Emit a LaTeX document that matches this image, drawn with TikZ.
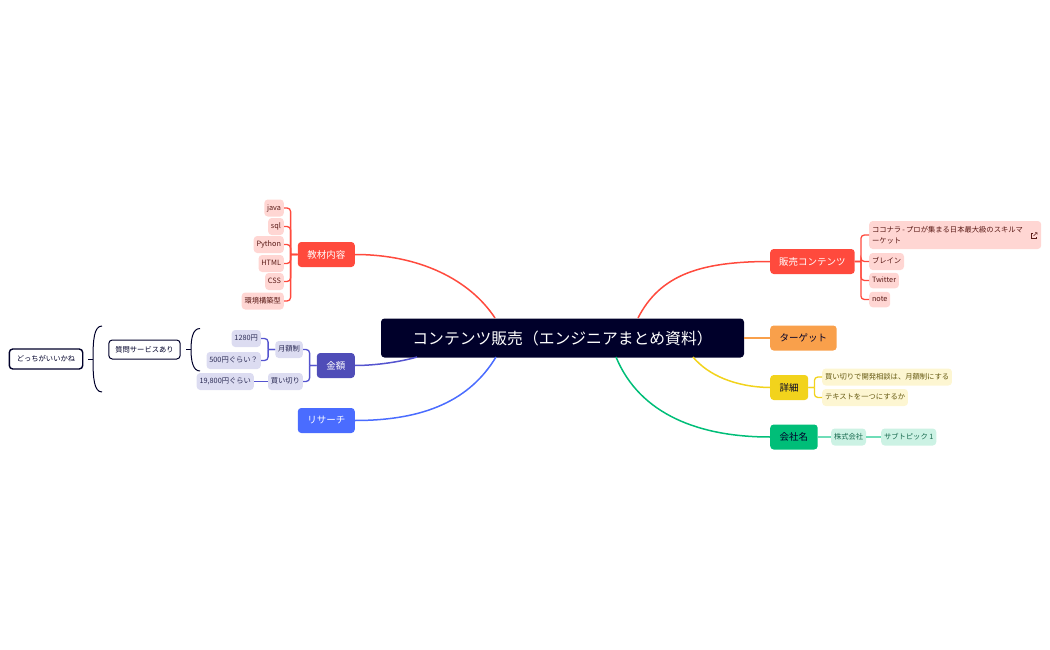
\documentclass[tikz,border=0pt]{standalone}
\usepackage{fontspec}
\setmainfont{Noto Sans CJK JP}
\usetikzlibrary{calc}
\definecolor{navy}{HTML}{00002A}
\definecolor{redline}{HTML}{FF4A3D}
\definecolor{redleaf}{HTML}{FFD6D3}
\definecolor{redtext}{HTML}{5A1A16}
\definecolor{indigo}{HTML}{4F4DB8}
\definecolor{indigoline}{HTML}{5554CF}
\definecolor{indigoleaf}{HTML}{DCDCF1}
\definecolor{indigotext}{HTML}{2C2C55}
\definecolor{bluebox}{HTML}{4A6CFF}
\definecolor{orangebox}{HTML}{F9A04B}
\definecolor{yellowbox}{HTML}{F2D31C}
\definecolor{yellowleaf}{HTML}{FDF6D2}
\definecolor{yellowtext}{HTML}{665A12}
\definecolor{greenbox}{HTML}{00BE78}
\definecolor{greenleaf}{HTML}{CCF2E4}
\definecolor{greenline}{HTML}{6FDDB8}
\definecolor{greentext}{HTML}{1A6B50}
\tikzset{
    branch/.style={rounded corners=3.5pt, minimum height=25pt, inner xsep=9.5pt, inner ysep=0pt, font=\fontsize{9.5}{11}\selectfont},
    leaf/.style={rounded corners=3.5pt, minimum height=17pt, inner xsep=2.8pt, inner ysep=0pt, text height=5.9pt, text depth=1.3pt, font=\fontsize{7.3}{11}\selectfont},
    note/.style={rounded corners=3.5pt, draw=navy, fill=white, text=navy, inner ysep=0pt, font=\fontsize{7.3}{11}\selectfont},
    main/.style={line width=1.5pt},
    wire/.style={line width=1.3pt, rounded corners=3.5pt},
    leftkids/.style={to path={-- ++(-7,0) ++(0,0) |- (\tikztotarget)}},
    rightkids/.style={to path={-- ++(6,0) ++(0,0) |- (\tikztotarget)}}
}
\begin{document}
\begin{tikzpicture}[x=1pt, y=-1pt]
    \useasboundingbox (0,0) rectangle (1050,650);

    % centre
    \node[rounded corners=3.5pt, fill=navy, text=white, minimum width=363pt, minimum height=39pt, font=\fontsize{15.8}{18}\selectfont] (hub) at (562.5,338) {コンテンツ販売（エンジニアまとめ資料）};
    \coordinate (hubkyozai) at (495,318);
    \coordinate (hubhanbai) at (638,318);
    \coordinate (hubkingaku) at (417,357);
    \coordinate (hubresearch) at (496,357);
    \coordinate (hubdetail) at (693,357);
    \coordinate (hubcompany) at (616,357);

    % left side
    \node[branch, fill=redline, text=white, anchor=east] (kyozai) at (355,254.5) {教材内容};
    \node[branch, fill=indigo, text=white, anchor=east] (kingaku) at (355,365.5) {金額};
    \node[branch, fill=bluebox, text=white, anchor=east] (research) at (355,420.5) {リサーチ};

    \foreach \name/\txt/\ypos in {java/java/208, sql/sql/226.5, python/Python/244.5, html/HTML/263.5, css/CSS/281.5, kankyo/環境構築型/301}
        \node[leaf, fill=redleaf, text=redtext, anchor=east] (\name) at (284,\ypos) {\txt};

    \node[leaf, fill=indigoleaf, text=indigotext, anchor=east] (monthly) at (303,349.5) {月額制};
    \node[leaf, fill=indigoleaf, text=indigotext, anchor=east] (buyout) at (303,381.5) {買い切り};
    \node[leaf, fill=indigoleaf, text=indigotext, anchor=east] (yen1280) at (261,338.5) {1280円};
    \node[leaf, fill=indigoleaf, text=indigotext, anchor=east] (yen500) at (261,360.5) {500円ぐらい？};
    \node[leaf, fill=indigoleaf, text=indigotext, anchor=east] (yen19800) at (254,381.5) {19,800円ぐらい};

    \node[note, line width=1pt, minimum height=19pt, inner xsep=6.5pt] (question) at (144.5,349.5) {質問サービスあり};
    \node[note, line width=1.4pt, minimum height=20pt, inner xsep=7.5pt] (which) at (46,359) {どっちがいいかね};

    % right side
    \node[branch, fill=redline, text=white, anchor=west, inner xsep=9pt] (hanbai) at (770,261.5) {販売コンテンツ};
    \node[branch, fill=orangebox, text=navy, anchor=west] (target) at (770,338) {ターゲット};
    \node[branch, fill=yellowbox, text=navy, anchor=west] (detail) at (770,387.5) {詳細};
    \node[branch, fill=greenbox, text=navy, anchor=west] (company) at (770,437) {会社名};

    \node[leaf, fill=redleaf, text=redtext, anchor=west, align=left, text width=166.4pt, text height=, text depth=, minimum height=28pt] (coconala) at (869,235) {ココナラ\,-\,プロが集まる日本最大級のスキルマ\\ーケット};
    \node[leaf, fill=redleaf, text=redtext, anchor=west] (brain) at (869,261.5) {ブレイン};
    \node[leaf, fill=redleaf, text=redtext, anchor=west, minimum height=15.5pt] (twitter) at (869,280.5) {Twitter};
    \node[leaf, fill=redleaf, text=redtext, anchor=west, minimum height=15.5pt] (notesite) at (869,299.5) {note};

    \node[leaf, fill=yellowleaf, text=yellowtext, anchor=west] (buyoutplan) at (822,377) {買い切りで開発相談は、月額制にする};
    \node[leaf, fill=yellowleaf, text=yellowtext, anchor=west] (onetext) at (822,397.5) {テキストを一つにするか};

    \node[leaf, fill=greenleaf, text=greentext, anchor=west] (kabushiki) at (831,437) {株式会社};
    \node[leaf, fill=greenleaf, text=greentext, anchor=west] (subtopic) at (881,437) {サブトピック 1};

    % main curves
    \draw[redline, main] (kyozai.east) .. controls (420,254.5) and (470,280) .. (hubkyozai);
    \draw[redline, main] (hanbai.west) .. controls (700,261.5) and (660,275) .. (hubhanbai);
    \draw[indigoline, main] (kingaku.east) .. controls (375,365.5) and (400,362) .. (hubkingaku);
    \draw[bluebox, main] (research.east) .. controls (425,420.5) and (470,400) .. (hubresearch);
    \draw[orangebox, main] (hub.east) -- (target.west);
    \draw[yellowbox, main] (detail.west) .. controls (735,387) and (708,375) .. (hubdetail);
    \draw[greenbox, main] (company.west) .. controls (700,437) and (640,415) .. (hubcompany);

    % sub branches
    \foreach \name in {java, sql, python, html, css, kankyo}
        \draw[redline, wire] (kyozai.west) to[leftkids] (\name.east);
    \foreach \name in {coconala, brain, twitter, notesite}
        \draw[redline, wire] (hanbai.east) to[rightkids] (\name.west);
    \foreach \name in {monthly, buyout}
        \draw[indigoline, wire] (kingaku.west) to[leftkids] (\name.east);
    \foreach \name in {yen1280, yen500}
        \draw[indigoline, wire] (monthly.west) to[leftkids] (\name.east);
    \draw[indigoline, wire] (buyout.west) -- (yen19800.east);
    \foreach \name in {buyoutplan, onetext}
        \draw[yellowbox, wire] (detail.east) to[rightkids] (\name.west);
    \draw[greenline, wire] (company.east) -- (kabushiki.west);
    \draw[greenline, wire] (kabushiki.east) -- (subtopic.west);

    % braces
    \coordinate (whichstem) at (88,359);
    \coordinate (bigbrace) at (93,359);
    \coordinate (questionstem) at (186,349.5);
    \coordinate (smallbrace) at (191,349.5);
    \draw[navy, line width=1pt] (whichstem) -- (bigbrace);
    \draw[navy, line width=1pt] (102,326) .. controls (94,326) and (93,340) .. (bigbrace) .. controls (93,378) and (94,392) .. (102,392);
    \draw[navy, line width=1pt] (questionstem) -- (smallbrace);
    \draw[navy, line width=1pt] (200,328.5) .. controls (193,328.5) and (191,338) .. (smallbrace) .. controls (191,361) and (193,371) .. (200,371);

    % link icon
    \draw[redtext, line width=.5pt] (1033,233) -- (1031.5,233) -- (1031.5,238) -- (1036.5,238) -- (1036.5,236.5);
    \draw[redtext, line width=.5pt] (1033.5,236) -- (1037,232.5) (1035,232.5) -- (1037,232.5) -- (1037,234.5);
\end{tikzpicture}
\end{document}
